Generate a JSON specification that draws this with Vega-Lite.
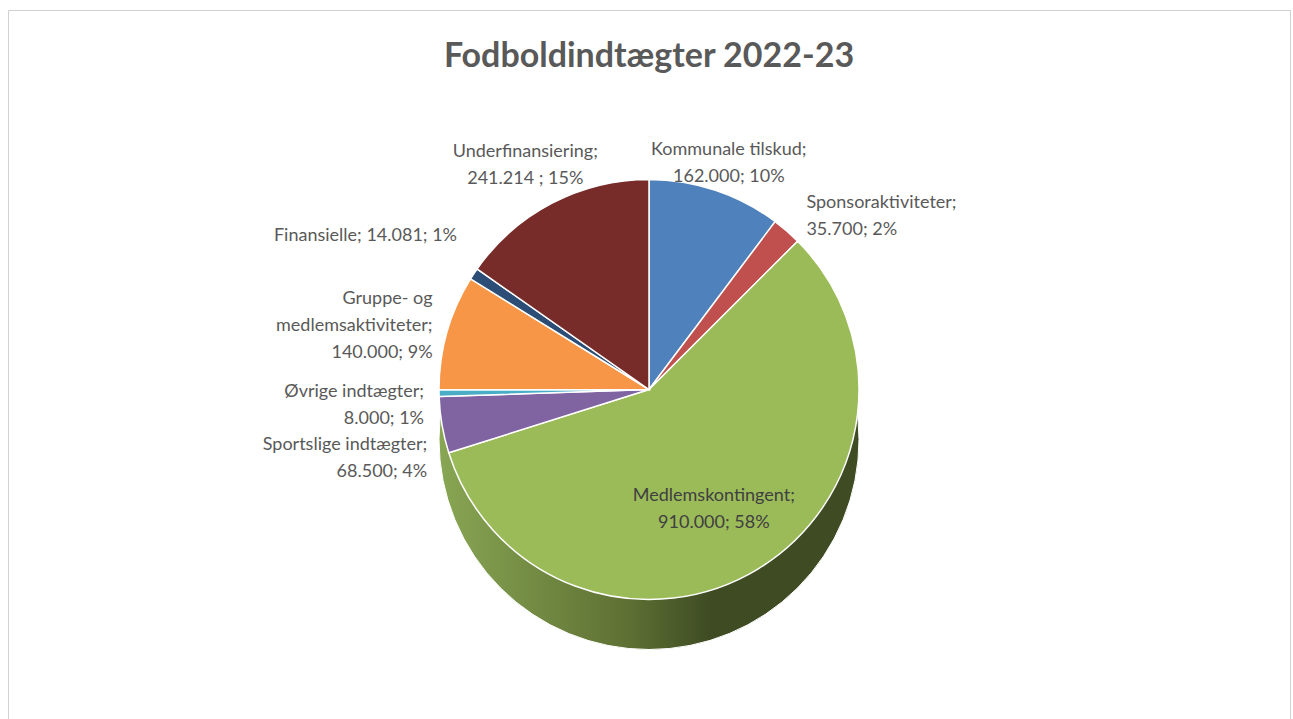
{
  "$schema": "https://vega.github.io/schema/vega-lite/v6.json",
  "autosize": {"type": "fit", "contains": "padding"},
  "width": 1293,
  "height": 719,
  "padding": {"left": 8, "top": 10, "right": 3, "bottom": 0},
  "background": "#ffffff",
  "view": {"stroke": "#D0D0D0", "strokeWidth": 1, "fill": "#ffffff"},
  "title": {
    "text": "Fodboldindtægter 2022-23",
    "font": "Lato",
    "fontSize": 34,
    "fontWeight": "bold",
    "color": "#595959",
    "anchor": "middle",
    "offset": -64
  },
  "data": {
    "values": [
      {"idx": 1, "cat": "Kommunale tilskud", "value": 162000, "label": "Kommunale tilskud;\n162.000; 10%"},
      {"idx": 2, "cat": "Sponsoraktiviteter", "value": 35700, "label": "Sponsoraktiviteter;\n35.700; 2%"},
      {"idx": 3, "cat": "Medlemskontingent", "value": 910000, "label": "Medlemskontingent;\n910.000; 58%"},
      {"idx": 4, "cat": "Sportslige indtægter", "value": 68500, "label": "Sportslige indtægter;\n68.500; 4%"},
      {"idx": 5, "cat": "Øvrige indtægter", "value": 8000, "label": "Øvrige indtægter;\n8.000; 1%"},
      {"idx": 6, "cat": "Gruppe- og medlemsaktiviteter", "value": 140000, "label": "Gruppe- og\nmedlemsaktiviteter;\n140.000; 9%"},
      {"idx": 7, "cat": "Finansielle", "value": 14081, "label": "Finansielle; 14.081; 1%"},
      {"idx": 8, "cat": "Underfinansiering", "value": 241214, "label": "Underfinansiering;\n241.214 ; 15%"}
    ]
  },
  "layer": [
    {
      "mark": {
        "type": "arc",
        "radius": 210,
        "yOffset": 75,
        "stroke": "#ffffff",
        "strokeWidth": 1,
        "fill": {
          "gradient": "linear",
          "x1": 0, "y1": 0, "x2": 1, "y2": 0,
          "stops": [
            {"offset": 0, "color": "#88A653"},
            {"offset": 0.45, "color": "#5E7033"},
            {"offset": 0.65, "color": "#3E4B23"},
            {"offset": 1, "color": "#3E4B23"}
          ]
        }
      },
      "encoding": {
        "theta": {"aggregate": "sum", "field": "value", "type": "quantitative"}
      }
    },
    {
      "mark": {"type": "arc", "radius": 210, "yOffset": 25, "stroke": "#ffffff", "strokeWidth": 1.5},
      "encoding": {
        "theta": {"field": "value", "type": "quantitative", "stack": true},
        "order": {"field": "idx", "type": "quantitative"},
        "color": {
          "field": "cat",
          "type": "nominal",
          "legend": null,
          "scale": {
            "domain": ["Kommunale tilskud", "Sponsoraktiviteter", "Medlemskontingent", "Sportslige indtægter", "Øvrige indtægter", "Gruppe- og medlemsaktiviteter", "Finansielle", "Underfinansiering"],
            "range": ["#4F81BD", "#C0504D", "#9BBB59", "#8064A2", "#4BACC6", "#F79646", "#2C4D75", "#772C2A"]
          }
        }
      }
    },
    {
      "mark": {"type": "text", "radius": 252, "yOffset": 25, "align": "center", "baseline": "middle", "lineBreak": "\n", "lineHeight": 27, "font": "Lato", "fontSize": 18, "color": "#595959"},
      "encoding": {
        "theta": {"field": "value", "type": "quantitative", "stack": true},
        "order": {"field": "idx", "type": "quantitative"},
        "text": {"condition": {"test": "datum.cat === 'Kommunale tilskud'", "field": "label"}, "value": ""}
      }
    },
    {
      "mark": {"type": "text", "radius": 268, "yOffset": 25, "align": "center", "baseline": "middle", "lineBreak": "\n", "lineHeight": 27, "font": "Lato", "fontSize": 18, "color": "#595959"},
      "encoding": {
        "theta": {"field": "value", "type": "quantitative", "stack": true},
        "order": {"field": "idx", "type": "quantitative"},
        "text": {"condition": {"test": "datum.cat === 'Underfinansiering'", "field": "label"}, "value": ""}
      }
    },
    {
      "mark": {"type": "text", "radius": 240, "yOffset": 20, "align": "left", "baseline": "middle", "lineBreak": "\n", "lineHeight": 27, "font": "Lato", "fontSize": 18, "color": "#595959"},
      "encoding": {
        "theta": {"field": "value", "type": "quantitative", "stack": true},
        "order": {"field": "idx", "type": "quantitative"},
        "text": {"condition": {"test": "datum.cat === 'Sponsoraktiviteter'", "field": "label"}, "value": ""}
      }
    },
    {
      "mark": {"type": "text", "radius": 230, "yOffset": -2, "align": "right", "baseline": "middle", "lineBreak": "\n", "lineHeight": 27, "font": "Lato", "fontSize": 18, "color": "#595959"},
      "encoding": {
        "theta": {"field": "value", "type": "quantitative", "stack": true},
        "order": {"field": "idx", "type": "quantitative"},
        "text": {"condition": {"test": "datum.cat === 'Finansielle'", "field": "label"}, "value": ""}
      }
    },
    {
      "mark": {"type": "text", "radius": 225, "yOffset": -4, "align": "right", "baseline": "middle", "lineBreak": "\n", "lineHeight": 27, "font": "Lato", "fontSize": 18, "color": "#595959"},
      "encoding": {
        "theta": {"field": "value", "type": "quantitative", "stack": true},
        "order": {"field": "idx", "type": "quantitative"},
        "text": {"condition": {"test": "datum.cat === 'Gruppe- og medlemsaktiviteter'", "field": "label"}, "value": ""}
      }
    },
    {
      "mark": {"type": "text", "radius": 225, "yOffset": 42, "align": "right", "baseline": "middle", "lineBreak": "\n", "lineHeight": 27, "font": "Lato", "fontSize": 18, "color": "#595959"},
      "encoding": {
        "theta": {"field": "value", "type": "quantitative", "stack": true},
        "order": {"field": "idx", "type": "quantitative"},
        "text": {"condition": {"test": "datum.cat === 'Sportslige indtægter'", "field": "label"}, "value": ""}
      }
    },
    {
      "mark": {"type": "text", "radius": 225, "yOffset": 24, "align": "right", "baseline": "middle", "lineBreak": "\n", "lineHeight": 27, "font": "Lato", "fontSize": 18, "color": "#595959"},
      "encoding": {
        "theta": {"field": "value", "type": "quantitative", "stack": true},
        "order": {"field": "idx", "type": "quantitative"},
        "text": {"condition": {"test": "datum.cat === 'Øvrige indtægter'", "field": "label"}, "value": ""}
      }
    },
    {
      "mark": {"type": "text", "radius": 125, "yOffset": 25, "align": "center", "baseline": "middle", "lineBreak": "\n", "lineHeight": 27, "font": "Lato", "fontSize": 18, "color": "#404040"},
      "encoding": {
        "theta": {"field": "value", "type": "quantitative", "stack": true},
        "order": {"field": "idx", "type": "quantitative"},
        "text": {"condition": {"test": "datum.cat === 'Medlemskontingent'", "field": "label"}, "value": ""}
      }
    }
  ]
}
